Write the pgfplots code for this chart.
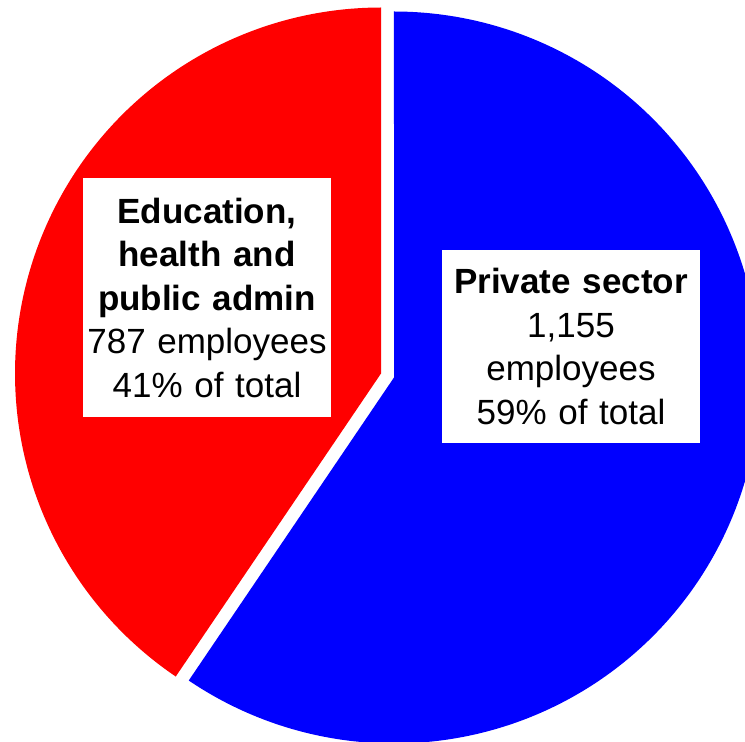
\documentclass[border=0pt]{standalone}
\usepackage{pgfplots}
\usepackage{pgfplotstable}
\pgfplotsset{compat=1.18}
\usepackage{fontspec}
\setmainfont{Liberation Sans}

\definecolor{eduRed}{RGB}{255,0,0}
\definecolor{privBlue}{RGB}{0,0,255}

% employees by sector
\pgfplotstableread{
sector value
Education 787
Private 1155
}\sectortable

\pgfplotstablegetelem{0}{value}\of\sectortable \global\let\valEdu\pgfplotsretval
\pgfplotstablegetelem{1}{value}\of\sectortable \global\let\valPriv\pgfplotsretval

% slice angles (counter-clockwise from 12 o'clock for the first slice)
\pgfmathsetmacro{\angEdu}{360*(\valEdu/(\valEdu+\valPriv))}
\pgfmathsetmacro{\splitAng}{90+\angEdu}
\def\cx{387.5}
\def\cy{366.5}
\def\rad{366}
\def\gap{6.8}
\pgfmathsetmacro{\midEdu}{90+\angEdu/2}
\pgfmathsetmacro{\midPriv}{\splitAng+(360-\angEdu)/2}
\pgfmathsetmacro{\exE}{\cx+\gap*cos(\midEdu)}
\pgfmathsetmacro{\eyE}{\cy+\gap*sin(\midEdu)}
\pgfmathsetmacro{\exP}{\cx+\gap*cos(\midPriv)}
\pgfmathsetmacro{\eyP}{\cy+\gap*sin(\midPriv)}

\begin{document}
\begin{tikzpicture}
\begin{axis}[
  hide axis, scale only axis,
  width=745pt, height=742pt,
  xmin=0, xmax=745, ymin=0, ymax=742,
  clip=true,
]
% education, health and public admin slice
\addplot[fill=eduRed, draw=none, domain=90:\splitAng, samples=240, variable=\t]
  ({\exE+\rad*cos(\t)}, {\eyE+\rad*sin(\t)}) -- (axis cs:\exE,\eyE) -- cycle;
% private sector slice
\addplot[fill=privBlue, draw=none, domain=\splitAng:450, samples=300, variable=\t]
  ({\exP+\rad*cos(\t)}, {\eyP+\rad*sin(\t)}) -- (axis cs:\exP,\eyP) -- cycle;

\node[fill=white, inner sep=0pt, minimum width=248pt, minimum height=239pt,
      text width=248pt, align=center, font=\fontsize{35}{43.5}\selectfont]
  at (axis cs:207,444.5)
  {\textbf{Education,}\\ \textbf{health and}\\ \textbf{public admin}\\ 787 employees\\ 41\% of total};

\node[fill=white, inner sep=0pt, minimum width=258pt, minimum height=193pt,
      text width=258pt, align=center, font=\fontsize{35}{43.5}\selectfont]
  at (axis cs:571,395.5)
  {\textbf{Private sector}\\ 1,155\\ employees\\ 59\% of total};
\end{axis}
\pgfresetboundingbox
\useasboundingbox (current axis.south west) rectangle (current axis.north east);
\end{tikzpicture}
\end{document}
